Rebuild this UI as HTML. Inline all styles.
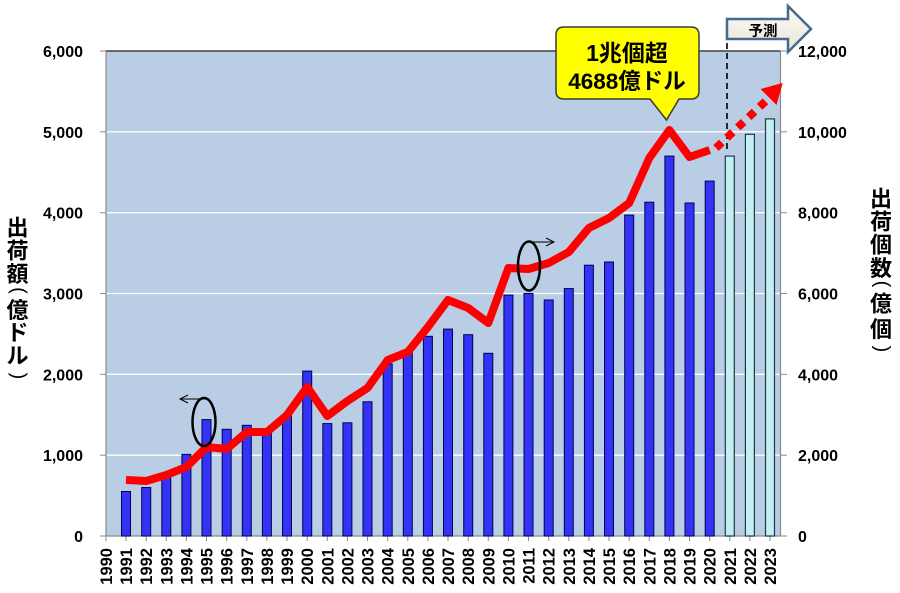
<!DOCTYPE html>
<html><head><meta charset="utf-8"><style>
html,body{margin:0;padding:0;background:#fff;}
#wrap{position:relative;width:900px;height:593px;overflow:hidden;}
svg{position:absolute;left:0;top:0;}
</style></head><body><div id="wrap">
<svg width="900" height="593" viewBox="0 0 900 593" xmlns="http://www.w3.org/2000/svg" font-family="Liberation Sans, Noto Sans CJK JP, sans-serif">
<rect x="106" y="51" width="674.5" height="485" fill="#b9cde5"/>
<g stroke="#ffffff" stroke-width="1.3">
<line x1="106" y1="131.8" x2="780.5" y2="131.8"/>
<line x1="106" y1="212.7" x2="780.5" y2="212.7"/>
<line x1="106" y1="293.5" x2="780.5" y2="293.5"/>
<line x1="106" y1="374.3" x2="780.5" y2="374.3"/>
<line x1="106" y1="455.2" x2="780.5" y2="455.2"/>
</g>
<line x1="106" y1="51" x2="780.5" y2="51" stroke="#404040" stroke-width="1.5"/>
<line x1="106" y1="51" x2="106" y2="536" stroke="#8a8a8a" stroke-width="1.2"/>
<line x1="780.5" y1="51" x2="780.5" y2="536" stroke="#8a8a8a" stroke-width="1.2"/>
<line x1="106" y1="536" x2="780.5" y2="536" stroke="#8a8a8a" stroke-width="1.2"/>
<g stroke="#8a8a8a" stroke-width="1">
<line x1="100" y1="51" x2="106" y2="51"/><line x1="100" y1="131.8" x2="106" y2="131.8"/><line x1="100" y1="212.7" x2="106" y2="212.7"/><line x1="100" y1="293.5" x2="106" y2="293.5"/><line x1="100" y1="374.3" x2="106" y2="374.3"/><line x1="100" y1="455.2" x2="106" y2="455.2"/><line x1="100" y1="536" x2="106" y2="536"/>
<line x1="780" y1="51" x2="787" y2="51"/><line x1="780" y1="131.8" x2="787" y2="131.8"/><line x1="780" y1="212.7" x2="787" y2="212.7"/><line x1="780" y1="293.5" x2="787" y2="293.5"/><line x1="780" y1="374.3" x2="787" y2="374.3"/><line x1="780" y1="455.2" x2="787" y2="455.2"/><line x1="780" y1="536" x2="787" y2="536"/>
<line x1="105.9" y1="536" x2="105.9" y2="541"/><line x1="126" y1="536" x2="126" y2="541"/><line x1="146.2" y1="536" x2="146.2" y2="541"/><line x1="166.3" y1="536" x2="166.3" y2="541"/><line x1="186.4" y1="536" x2="186.4" y2="541"/><line x1="206.5" y1="536" x2="206.5" y2="541"/><line x1="226.7" y1="536" x2="226.7" y2="541"/><line x1="246.8" y1="536" x2="246.8" y2="541"/><line x1="266.9" y1="536" x2="266.9" y2="541"/><line x1="287" y1="536" x2="287" y2="541"/><line x1="307.2" y1="536" x2="307.2" y2="541"/><line x1="327.3" y1="536" x2="327.3" y2="541"/><line x1="347.4" y1="536" x2="347.4" y2="541"/><line x1="367.5" y1="536" x2="367.5" y2="541"/><line x1="387.7" y1="536" x2="387.7" y2="541"/><line x1="407.8" y1="536" x2="407.8" y2="541"/><line x1="427.9" y1="536" x2="427.9" y2="541"/><line x1="448" y1="536" x2="448" y2="541"/><line x1="468.2" y1="536" x2="468.2" y2="541"/><line x1="488.3" y1="536" x2="488.3" y2="541"/><line x1="508.4" y1="536" x2="508.4" y2="541"/><line x1="528.5" y1="536" x2="528.5" y2="541"/><line x1="548.7" y1="536" x2="548.7" y2="541"/><line x1="568.8" y1="536" x2="568.8" y2="541"/><line x1="588.9" y1="536" x2="588.9" y2="541"/><line x1="609" y1="536" x2="609" y2="541"/><line x1="629.2" y1="536" x2="629.2" y2="541"/><line x1="649.3" y1="536" x2="649.3" y2="541"/><line x1="669.4" y1="536" x2="669.4" y2="541"/><line x1="689.5" y1="536" x2="689.5" y2="541"/><line x1="709.7" y1="536" x2="709.7" y2="541"/><line x1="729.8" y1="536" x2="729.8" y2="541"/><line x1="749.9" y1="536" x2="749.9" y2="541"/><line x1="770" y1="536" x2="770" y2="541"/>
</g>
<g fill="#3333f5" stroke="#000055" stroke-width="1">
<rect x="121.5" y="491.5" width="9" height="44.5"/>
<rect x="141.7" y="487.5" width="9" height="48.5"/>
<rect x="161.8" y="477" width="9" height="59"/>
<rect x="181.9" y="454.4" width="9" height="81.6"/>
<rect x="202" y="419.6" width="9" height="116.4"/>
<rect x="222.2" y="429.3" width="9" height="106.7"/>
<rect x="242.3" y="425.3" width="9" height="110.7"/>
<rect x="262.4" y="432.5" width="9" height="103.5"/>
<rect x="282.5" y="414.7" width="9" height="121.3"/>
<rect x="302.7" y="371.1" width="9" height="164.9"/>
<rect x="322.8" y="423.6" width="9" height="112.4"/>
<rect x="342.9" y="422.8" width="9" height="113.2"/>
<rect x="363" y="401.8" width="9" height="134.2"/>
<rect x="383.2" y="363.8" width="9" height="172.2"/>
<rect x="403.3" y="351.7" width="9" height="184.3"/>
<rect x="423.4" y="336.3" width="9" height="199.7"/>
<rect x="443.5" y="329.1" width="9" height="206.9"/>
<rect x="463.7" y="334.7" width="9" height="201.3"/>
<rect x="483.8" y="353.3" width="9" height="182.7"/>
<rect x="503.9" y="295.1" width="9" height="240.9"/>
<rect x="524" y="293.5" width="9" height="242.5"/>
<rect x="544.2" y="300" width="9" height="236"/>
<rect x="564.3" y="288.6" width="9" height="247.4"/>
<rect x="584.4" y="265.2" width="9" height="270.8"/>
<rect x="604.5" y="262" width="9" height="274"/>
<rect x="624.7" y="215.1" width="9" height="320.9"/>
<rect x="644.8" y="202.2" width="9" height="333.8"/>
<rect x="664.9" y="156.1" width="9" height="379.9"/>
<rect x="685" y="203" width="9" height="333"/>
<rect x="705.2" y="181.1" width="9" height="354.9"/>
</g>
<g fill="#c4eef2" stroke="#1d3b47" stroke-width="1.2">
<rect x="725.3" y="156.1" width="9" height="379.9"/>
<rect x="745.4" y="134.3" width="9" height="401.7"/>
<rect x="765.5" y="118.9" width="9" height="417.1"/>
</g>
<line x1="727" y1="33" x2="727" y2="150" stroke="#000" stroke-width="1.6" stroke-dasharray="6,4"/>
<polyline fill="none" stroke="#ff0000" stroke-width="8" stroke-linejoin="round" points="126,480 146.2,481 166.3,475 186.4,467 206.5,447 226.7,449 246.8,432 266.9,432 287,415 307.2,387 327.3,416 347.4,401 367.5,388 387.7,360 407.8,352 427.9,327 448,300 468.2,308 488.3,323 508.4,268 528.5,269 548.7,263 568.8,252 588.9,228 609,218 629.2,203 649.3,158 669.4,130 689.5,157 709.7,150"/>
<line x1="716" y1="148" x2="770" y2="97" stroke="#ff0000" stroke-width="8" stroke-dasharray="8,7"/>
<polygon points="782.7,83 776.5,105 760.5,89" fill="#ff0000"/>
<ellipse cx="204" cy="422" rx="11.5" ry="24" fill="none" stroke="#000" stroke-width="2.5"/>
<line x1="207" y1="399" x2="181" y2="399" stroke="#000" stroke-width="1"/>
<polyline points="188,395 180,399 188,403" fill="none" stroke="#000" stroke-width="1"/>
<ellipse cx="529" cy="266" rx="11" ry="24.5" fill="none" stroke="#000" stroke-width="2.5"/>
<line x1="530" y1="242" x2="553" y2="242" stroke="#000" stroke-width="1"/>
<polyline points="546,238 554,242 546,246" fill="none" stroke="#000" stroke-width="1"/>
<path d="M564,27 H691 Q699,27 699,35 V91 Q699,99 691,99 H679 L666.5,120 L650,99 H564 Q556,99 556,91 V35 Q556,27 564,27 Z" fill="#ffff00" stroke="#3a3a3a" stroke-width="1.5"/>
<text x="627" y="61" font-size="23" font-weight="bold" text-anchor="middle">1兆個超</text>
<text x="627" y="89" font-size="22.5" font-weight="bold" text-anchor="middle">4688億ドル</text>
<defs><linearGradient id="ag" x1="0" y1="0" x2="0" y2="1"><stop offset="0" stop-color="#fbfaf4"/><stop offset="1" stop-color="#e9e6d8"/></linearGradient></defs>
<polygon points="727,19 788,19 788,6 811,29 788,52 788,39 727,39" fill="url(#ag)" stroke="#46698f" stroke-width="2.5" stroke-linejoin="miter"/>
<text x="763" y="36" font-size="14.5" font-weight="bold" text-anchor="middle">予測</text>
<g font-size="16" font-weight="bold" text-anchor="end" fill="#000">
<text x="83" y="57">6,000</text><text x="83" y="137.8">5,000</text><text x="83" y="218.7">4,000</text><text x="83" y="299.5">3,000</text><text x="83" y="380.3">2,000</text><text x="83" y="461.2">1,000</text><text x="83" y="542">0</text>
</g>
<g font-size="16" font-weight="bold" text-anchor="start" fill="#000">
<text x="798" y="57">12,000</text><text x="798" y="137.8">10,000</text><text x="798" y="218.7">8,000</text><text x="798" y="299.5">6,000</text><text x="798" y="380.3">4,000</text><text x="798" y="461.2">2,000</text><text x="798" y="542">0</text>
</g>
<g font-size="16.5" font-weight="bold" text-anchor="end" fill="#000">
<text transform="translate(111.9,548) rotate(-90)">1990</text>
<text transform="translate(132,548) rotate(-90)">1991</text>
<text transform="translate(152.2,548) rotate(-90)">1992</text>
<text transform="translate(172.3,548) rotate(-90)">1993</text>
<text transform="translate(192.4,548) rotate(-90)">1994</text>
<text transform="translate(212.5,548) rotate(-90)">1995</text>
<text transform="translate(232.7,548) rotate(-90)">1996</text>
<text transform="translate(252.8,548) rotate(-90)">1997</text>
<text transform="translate(272.9,548) rotate(-90)">1998</text>
<text transform="translate(293,548) rotate(-90)">1999</text>
<text transform="translate(313.2,548) rotate(-90)">2000</text>
<text transform="translate(333.3,548) rotate(-90)">2001</text>
<text transform="translate(353.4,548) rotate(-90)">2002</text>
<text transform="translate(373.5,548) rotate(-90)">2003</text>
<text transform="translate(393.7,548) rotate(-90)">2004</text>
<text transform="translate(413.8,548) rotate(-90)">2005</text>
<text transform="translate(433.9,548) rotate(-90)">2006</text>
<text transform="translate(454,548) rotate(-90)">2007</text>
<text transform="translate(474.2,548) rotate(-90)">2008</text>
<text transform="translate(494.3,548) rotate(-90)">2009</text>
<text transform="translate(514.4,548) rotate(-90)">2010</text>
<text transform="translate(534.5,548) rotate(-90)">2011</text>
<text transform="translate(554.7,548) rotate(-90)">2012</text>
<text transform="translate(574.8,548) rotate(-90)">2013</text>
<text transform="translate(594.9,548) rotate(-90)">2014</text>
<text transform="translate(615,548) rotate(-90)">2015</text>
<text transform="translate(635.2,548) rotate(-90)">2016</text>
<text transform="translate(655.3,548) rotate(-90)">2017</text>
<text transform="translate(675.4,548) rotate(-90)">2018</text>
<text transform="translate(695.5,548) rotate(-90)">2019</text>
<text transform="translate(715.7,548) rotate(-90)">2020</text>
<text transform="translate(735.8,548) rotate(-90)">2021</text>
<text transform="translate(755.9,548) rotate(-90)">2022</text>
<text transform="translate(776,548) rotate(-90)">2023</text>
</g>
<g font-size="22" font-weight="bold" text-anchor="middle" fill="#000">
<text x="17.5" y="235.4">出</text>
<text x="17.5" y="258.7">荷</text>
<text x="17.5" y="281.9">額</text>
<text x="17.5" y="317.9">億</text>
<text x="17.5" y="340.4">ド</text>
<text x="17.5" y="363.4">ル</text>
<text x="881" y="206.7">出</text>
<text x="881" y="229.4">荷</text>
<text x="881" y="252.4">個</text>
<text x="881" y="275.9">数</text>
<text x="881" y="311.7">億</text>
<text x="881" y="336.9">個</text>
</g>
<g font-size="20" text-anchor="middle" fill="#000" font-family="Liberation Sans, sans-serif">
<text x="17.5" y="295.7" transform="rotate(90 17.5 290.5)">(</text>
<text x="17.5" y="381.2" transform="rotate(90 17.5 376)">)</text>
<text x="881" y="289.2" transform="rotate(90 881 284)">(</text>
<text x="881" y="354.2" transform="rotate(90 881 349)">)</text>
</g>
</svg>
</div></body></html>
